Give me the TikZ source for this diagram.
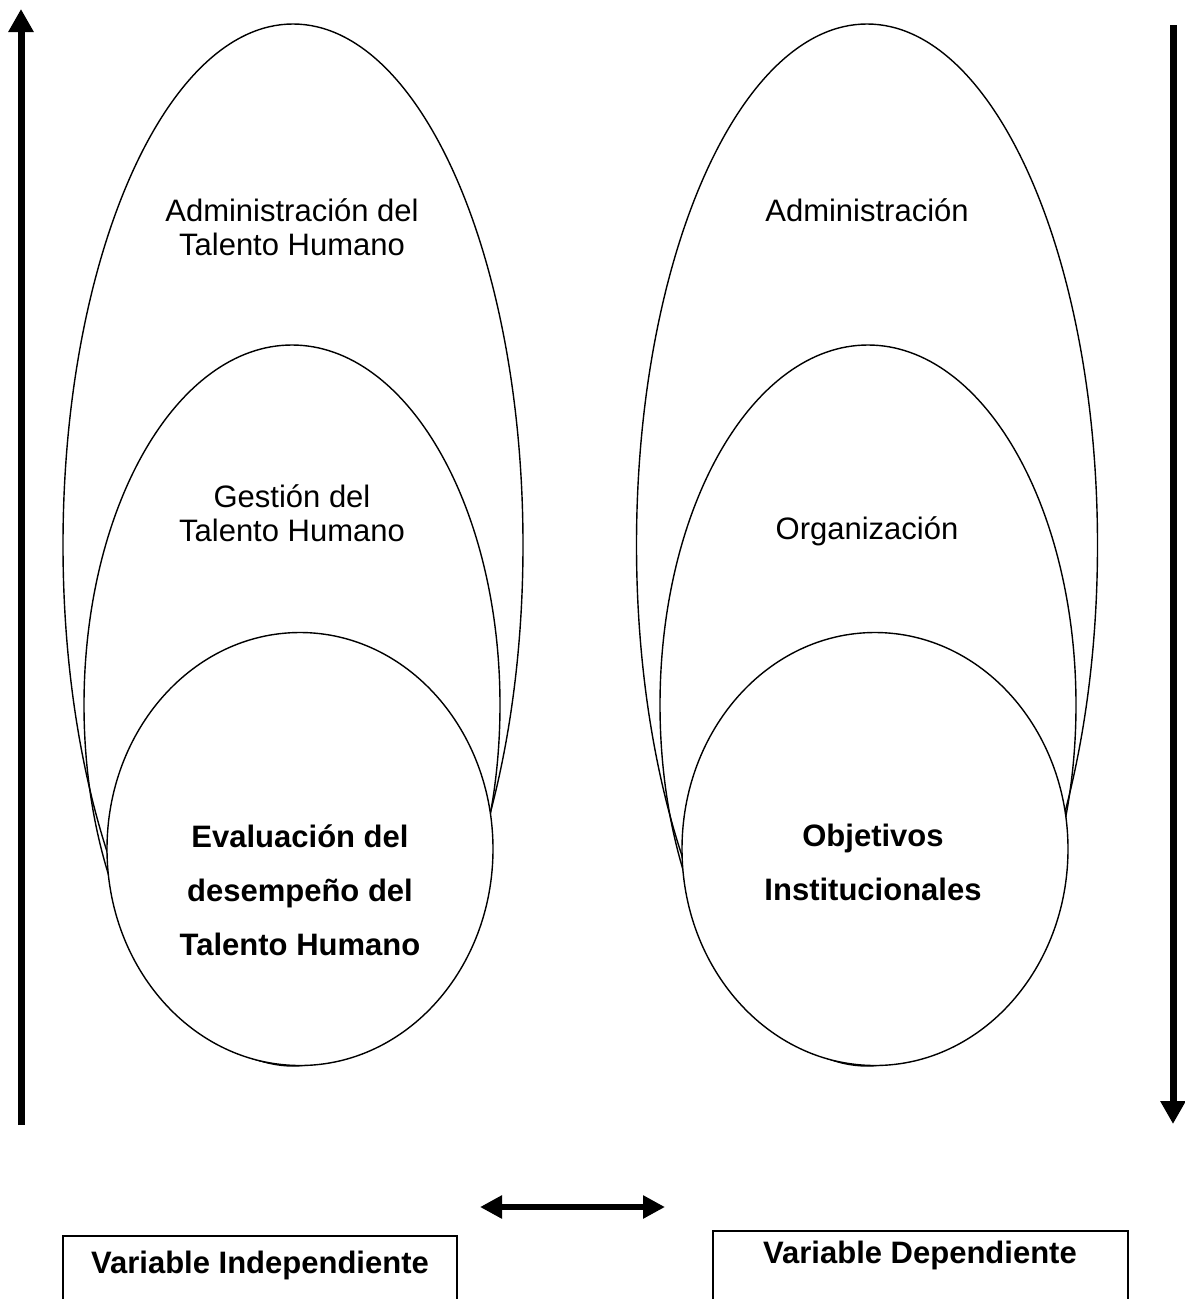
\documentclass[tikz,border=0pt]{standalone}
\usepackage{fontspec}
\setmainfont{Liberation Sans}
\usetikzlibrary{shapes.geometric,arrows.meta}
\begin{document}
\begin{tikzpicture}[x=1pt,y=-1pt,
  ring/.style={draw,ellipse,line width=1.4pt,inner sep=0pt},
  core/.style={ring,fill=white},
  label/.style={align=center,font=\fontsize{31}{34}\selectfont},
  boldlabel/.style={align=center,font=\fontsize{31}{54}\selectfont\bfseries},
  bigarrow/.style={line width=7pt,-{Triangle[length=23pt,width=24pt]}},
  boxline/.style={line width=2pt}]
\useasboundingbox (0,0) rectangle (1185,1299);
\fill[white] (0,0) rectangle (1185,1299);

% left family of ellipses
\node[ring,minimum width=460pt,minimum height=1042pt] (louter) at (293,545) {};
\node[ring,minimum width=416pt,minimum height=720pt] (lmid) at (292,705) {};
\node[core,minimum width=386pt,minimum height=433pt] (linner) at (300,849) {};

% right family of ellipses
\node[ring,minimum width=461pt,minimum height=1042pt] (router) at (867,545) {};
\node[ring,minimum width=416pt,minimum height=720pt] (rmid) at (868,705) {};
\node[core,minimum width=386pt,minimum height=433pt] (rinner) at (875,849) {};

% texts
\node[label] (adm1) at (292,227) {Administración del\\Talento Humano};
\node[label] (ges) at (292,513) {Gestión del\\Talento Humano};
\node[boldlabel] (eval) at (300,890) {Evaluación del\\desempeño del\\Talento Humano};
\node[label] (adm2) at (867,210) {Administración};
\node[label] (org) at (867,531) {Organización};
\node[boldlabel] (obj) at (873,862) {Objetivos\\Institucionales};

% vertical arrows
\coordinate (ubot) at (21,1125);
\coordinate (utop) at (21,9);
\draw[bigarrow] (ubot) -- (utop);
\coordinate (dtop) at (1173,25);
\coordinate (dbot) at (1173,1124);
\draw[bigarrow] (dtop) -- (dbot);

% double arrow between the variables
\coordinate (hl) at (480,1207);
\coordinate (hr) at (665,1207);
\draw[line width=6pt,{Triangle[length=22pt,width=22pt]}-{Triangle[length=22pt,width=22pt]}] (hl) -- (hr);

% variable boxes, open at the lower edge
\draw[boxline] (63,1300) -- (63,1236) -- (457,1236) -- (457,1300);
\node[boldlabel] (vi) at (260,1265) {Variable Independiente};
\draw[boxline] (713,1300) -- (713,1231) -- (1128,1231) -- (1128,1300);
\node[boldlabel] (vd) at (920,1255) {Variable Dependiente};
\end{tikzpicture}
\end{document}
